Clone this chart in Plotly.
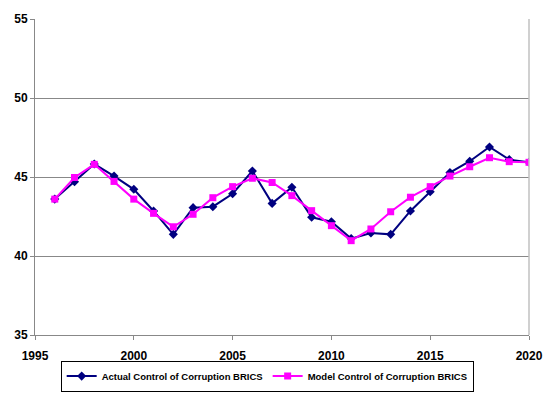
import plotly.graph_objects as go

years = list(range(1996, 2021))
actual = [43.6, 44.7, 45.82, 45.06, 44.22, 42.85, 41.37, 43.06, 43.12, 43.94,
          45.38, 43.33, 44.35, 42.45, 42.17, 41.1, 41.46, 41.37, 42.85, 44.07,
          45.28, 46.0, 46.9, 46.1, 45.93]
model = [43.6, 44.97, 45.8, 44.72, 43.6, 42.7, 41.85, 42.64, 43.69, 44.39,
         44.92, 44.65, 43.82, 42.87, 41.92, 40.97, 41.71, 42.8, 43.72, 44.39,
         45.06, 45.65, 46.22, 45.97, 45.93]
x_ticks = [1995, 2000, 2005, 2010, 2015, 2020]
y_ticks = [35, 40, 45, 50, 55]

FAM = "Liberation Sans, Arial, sans-serif"

fig = go.Figure()
fig.add_trace(go.Scatter(
    x=years, y=actual, mode="lines+markers",
    name="<b>Actual Control of Corruption BRICS</b>",
    line=dict(color="#000080", width=2),
    marker=dict(symbol="diamond", size=7, color="#000080"),
))
fig.add_trace(go.Scatter(
    x=years, y=model, mode="lines+markers",
    name="<b>Model Control of Corruption BRICS</b>",
    line=dict(color="#FF00FF", width=2),
    marker=dict(symbol="square", size=7, color="#FF00FF"),
))

fig.update_layout(
    width=550, height=396,
    margin=dict(l=35, r=21, t=19, b=61, autoexpand=False),
    paper_bgcolor="white", plot_bgcolor="white",
    font=dict(family=FAM, size=12, color="#000000"),
    showlegend=True,
    legend=dict(
        orientation="h", x=0.47, y=-0.13, xanchor="center", yanchor="middle",
        bordercolor="#000000", borderwidth=1, bgcolor="white",
        font=dict(family=FAM, size=9.5, color="#000000"),
        itemwidth=30, tracegroupgap=0,
    ),
    xaxis=dict(
        range=[1995, 2020], tickvals=x_ticks,
        ticktext=["<b>%d</b>" % v for v in x_ticks],
        showgrid=False, zeroline=False, automargin=False,
        showline=True, linecolor="#888888", linewidth=1,
        ticks="outside", ticklen=4, tickcolor="#888888",
        ticklabelstandoff=6,
        tickfont=dict(family=FAM, size=12, color="#000000"),
    ),
    yaxis=dict(
        range=[35, 55], tickvals=y_ticks,
        ticktext=["<b>%d</b>" % v for v in y_ticks],
        showgrid=True, gridcolor="#888888", gridwidth=1, zeroline=False,
        automargin=False,
        showline=True, linecolor="#888888", linewidth=1,
        ticks="outside", ticklen=4, tickcolor="#888888",
        tickfont=dict(family=FAM, size=12, color="#000000"),
    ),
    shapes=[dict(type="line", xref="paper", yref="paper", x0=1, x1=1, y0=0, y1=1,
                 line=dict(color="#C0C0C0", width=1.5))],
)

fig.write_html("out.html",
               config={"displayModeBar": False},
               post_script="document.body.style.margin='0';document.body.style.padding='0';")
